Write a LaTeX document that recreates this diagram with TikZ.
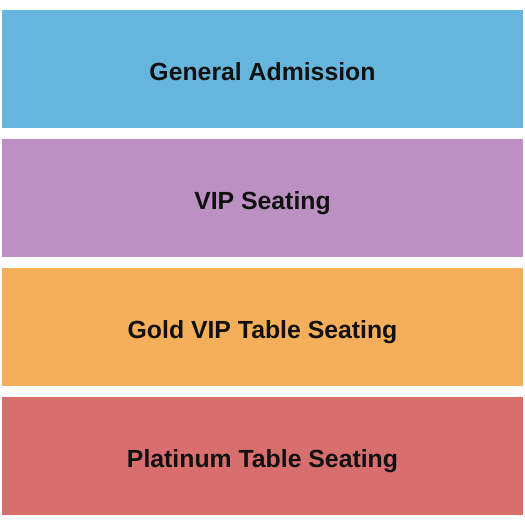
\documentclass[tikz,border=0pt]{standalone}
\usepackage{fontspec}
\setmainfont{Liberation Sans}
\definecolor{gacolor}{RGB}{102,181,220}
\definecolor{vipcolor}{RGB}{188,144,194}
\definecolor{goldcolor}{RGB}{245,174,89}
\definecolor{platcolor}{RGB}{216,110,110}
\definecolor{labelcolor}{RGB}{17,17,17}
\tikzset{
  section/.style = {draw = none, minimum width = 521pt, minimum height = 118pt, inner sep = 0pt},
  sectionlabel/.style = {anchor = base, inner sep = 0pt, font = \bfseries\fontsize{24.8}{26}\selectfont, text = labelcolor}
}
\begin{document}
\begin{tikzpicture}[x = 1pt, y = -1pt]
\useasboundingbox[fill = white] (0,0) rectangle (525,525);
% seating sections
\node[section, fill = gacolor] (ga) at (262.5,69) {};
\node[section, fill = vipcolor] (vip) at (262.5,198) {};
\node[section, fill = goldcolor] (gold) at (262.5,327) {};
\node[section, fill = platcolor] (plat) at (262.5,456) {};
% labels
\node[sectionlabel] (galabel) at ([yshift = -71pt]ga.north) {General Admission};
\node[sectionlabel] (viplabel) at ([yshift = -71pt]vip.north) {VIP Seating};
\node[sectionlabel] (goldlabel) at ([yshift = -71pt]gold.north) {Gold VIP Table Seating};
\node[sectionlabel] (platlabel) at ([yshift = -71pt]plat.north) {Platinum Table Seating};
\end{tikzpicture}
\end{document}
